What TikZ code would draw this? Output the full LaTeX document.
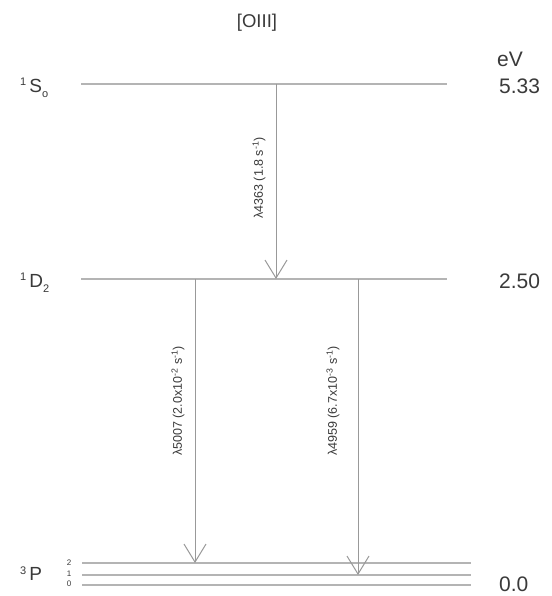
\documentclass[tikz,border=0pt]{standalone}
\usepackage{fontspec}
\setmainfont{Liberation Sans}
\usetikzlibrary{arrows.meta}
\definecolor{lvl}{HTML}{B4B4B4}
\definecolor{txt}{HTML}{3A3A3A}
\newcommand{\sups}[1]{\textsuperscript{#1}}
\begin{document}
\begin{tikzpicture}[x=1pt,y=-1pt,
  level/.style={draw=lvl,line width=1.2pt},
  trans/.style={draw=lvl!85!black,line width=1pt,-{Straight Barb[length=18pt,width=22pt,line width=1pt]}},
  big/.style={text=txt,font=\fontsize{21}{21}\selectfont,inner sep=0pt},
  term/.style={text=txt,font=\fontsize{19}{19}\selectfont,inner sep=0pt},
  wl/.style={text=txt,font=\fontsize{12.5}{12.5}\selectfont,inner sep=0pt,rotate=90},
  jl/.style={text=txt,font=\fontsize{8}{8}\selectfont,inner sep=0pt}]
\useasboundingbox[fill=white] (0,0) rectangle (551,596);
% title and units
\node[big,font=\fontsize{18.5}{18.5}\selectfont] (title) at (257,23) {[OIII]};
\node[big] (ev) at (510,59) {eV};
% levels
\coordinate (s0l) at (81,84);  \coordinate (s0r) at (447,84);
\coordinate (d2l) at (81,279); \coordinate (d2r) at (447,279);
\coordinate (p2l) at (82,563); \coordinate (p2r) at (471,563);
\coordinate (p1l) at (82,575); \coordinate (p1r) at (471,575);
\coordinate (p0l) at (82,585); \coordinate (p0r) at (471,585);
\draw[level] (s0l) -- (s0r);
\draw[level] (d2l) -- (d2r);
\draw[level] (p2l) -- (p2r);
\draw[level] (p1l) -- (p1r);
\draw[level] (p0l) -- (p0r);
% energies
\node[big,anchor=west] (e1) at (499,86) {5.33};
\node[big,anchor=west] (e2) at (499,281) {2.50};
\node[big,anchor=west] (e3) at (499,584) {0.0};
% term labels
\node[term,anchor=west] (ts) at (20,88) {\raisebox{7pt}{\fontsize{11}{11}\selectfont 1}\,S\raisebox{-5pt}{\fontsize{11}{11}\selectfont o}};
\node[term,anchor=west] (td) at (20,283) {\raisebox{7pt}{\fontsize{11}{11}\selectfont 1}\,D\raisebox{-5pt}{\fontsize{11}{11}\selectfont 2}};
\node[term,anchor=west] (tp) at (20,574) {\raisebox{6pt}{\fontsize{11}{11}\selectfont 3}\,P};
\node[jl] (j2) at (69,563) {2};
\node[jl] (j1) at (69,573.5) {1};
\node[jl] (j0) at (69,584) {0};
% transitions
\coordinate (a1s) at (276,84);  \coordinate (a1e) at (276,279);
\coordinate (a2s) at (195,279); \coordinate (a2e) at (195,563);
\coordinate (a3s) at (358,279); \coordinate (a3e) at (358,575);
\draw[trans] (a1s) -- (a1e);
\draw[trans] (a2s) -- (a2e);
\draw[trans] (a3s) -- (a3e);
\node[wl] (w1) at (259,178) {λ4363 (1.8 s\sups{-1})};
\node[wl] (w2) at (178,401) {λ5007 (2.0x10\sups{-2} s\sups{-1})};
\node[wl] (w3) at (333,401) {λ4959 (6.7x10\sups{-3} s\sups{-1})};
\end{tikzpicture}
\end{document}
